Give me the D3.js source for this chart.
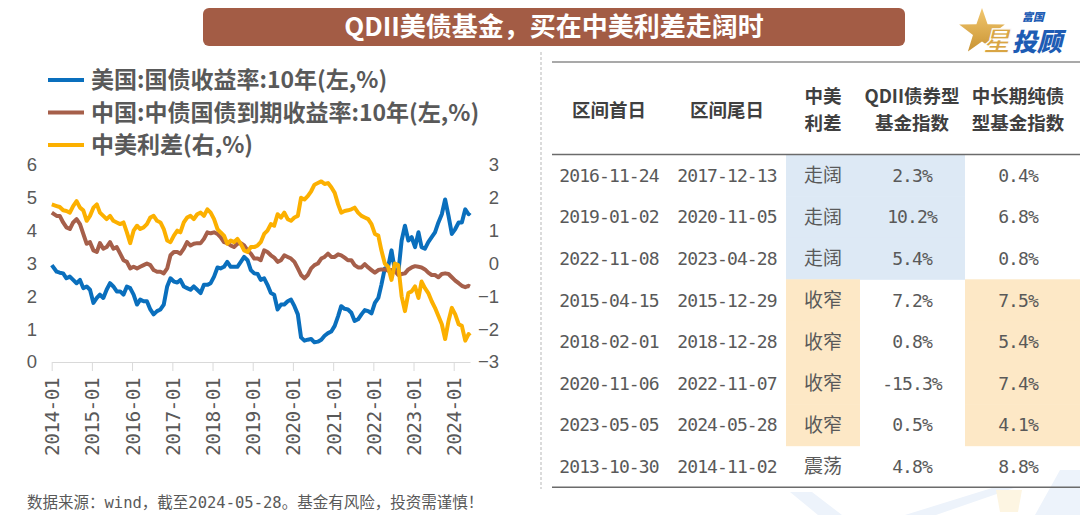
<!DOCTYPE html>
<html lang="zh">
<head>
<meta charset="utf-8">
<title>QDII美债基金，买在中美利差走阔时</title>
<script src="https://cdn.jsdelivr.net/npm/d3@7"></script>
<style>
	body { margin: 0; background: #fff; }
	svg { display: block; }
	.cjk { font-family: "Noto Sans CJK SC", sans-serif; }
	.mono { font-family: "DejaVu Sans Mono", "Noto Sans CJK SC", monospace; }
	.axis text { font-family: "Liberation Sans", Arial, sans-serif; font-size: 18.5px; fill: #595959; }
	.axis text.date { font-family: "DejaVu Sans Mono", monospace; font-size: 19.5px; letter-spacing: -0.6px; }
</style>
</head>
<body>
<script>
// ---- chart data (monthly readings, %), Jan 2014 .. May 2024, last point = 2024-05-28 ----
var usYield = [
	2.95, 2.75, 2.72, 2.70, 2.55, 2.60, 2.50, 2.40, 2.50, 2.25, 2.30, 2.20, // 2014
	1.80, 1.95, 2.05, 1.95, 2.20, 2.40, 2.30, 2.15, 2.15, 2.05, 2.30, 2.25, // 2015
	2.05, 1.75, 1.90, 1.85, 1.85, 1.60, 1.45, 1.55, 1.60, 1.75, 2.30, 2.55, // 2016
	2.45, 2.42, 2.50, 2.30, 2.25, 2.20, 2.30, 2.20, 2.10, 2.35, 2.35, 2.40, // 2017
	2.60, 2.88, 2.85, 2.90, 3.05, 2.90, 2.90, 2.90, 3.05, 3.20, 3.10, 2.80, // 2018
	2.70, 2.68, 2.50, 2.55, 2.35, 2.10, 2.05, 1.60, 1.75, 1.75, 1.85, 1.90, // 2019
	1.70, 1.45, 0.75, 0.65, 0.68, 0.70, 0.60, 0.62, 0.68, 0.80, 0.88, 0.93, // 2020
	1.10, 1.40, 1.70, 1.62, 1.60, 1.50, 1.25, 1.30, 1.45, 1.58, 1.55, 1.48, // 2021
	1.80, 1.95, 2.35, 2.85, 2.90, 3.40, 2.80, 2.70, 3.70, 4.15, 3.70, 3.80, // 2022
	3.50, 3.95, 3.50, 3.45, 3.65, 3.80, 3.95, 4.25, 4.50, 4.95, 4.45, 3.90, // 2023
	4.05, 4.25, 4.25, 4.65, 4.50, 4.55                                      // 2024
];
var cnYield = [
	4.55, 4.45, 4.45, 4.25, 4.10, 4.05, 4.25, 4.35, 4.20, 3.90, 3.60, 3.65,
	3.40, 3.35, 3.62, 3.45, 3.50, 3.65, 3.45, 3.50, 3.30, 3.10, 3.05, 2.85,
	2.90, 2.85, 2.90, 2.95, 3.00, 2.95, 2.80, 2.75, 2.75, 2.70, 2.85, 3.25,
	3.35, 3.35, 3.30, 3.45, 3.65, 3.55, 3.60, 3.62, 3.62, 3.75, 3.95, 3.92,
	3.95, 3.90, 3.80, 3.65, 3.62, 3.55, 3.50, 3.60, 3.62, 3.55, 3.40, 3.30,
	3.15, 3.15, 3.10, 3.40, 3.35, 3.25, 3.18, 3.05, 3.10, 3.25, 3.20, 3.15,
	3.05, 2.85, 2.65, 2.55, 2.65, 2.85, 2.95, 3.00, 3.15, 3.20, 3.30, 3.20,
	3.20, 3.28, 3.25, 3.18, 3.10, 3.10, 2.95, 2.88, 2.88, 2.98, 2.88, 2.80,
	2.72, 2.80, 2.82, 2.82, 2.78, 2.80, 2.78, 2.65, 2.68, 2.70, 2.82, 2.88,
	2.92, 2.90, 2.88, 2.82, 2.72, 2.65, 2.65, 2.58, 2.68, 2.70, 2.68, 2.58,
	2.48, 2.40, 2.32, 2.28, 2.32, 2.30
];
var spread = [
	1.80, 1.75, 1.72, 1.62, 1.60, 1.55, 1.75, 1.90, 1.70, 1.62, 1.30, 1.45,
	1.70, 1.80, 1.55, 1.45, 1.35, 1.45, 1.30, 1.25, 1.20, 1.25, 0.95, 0.62,
	1.00, 1.15, 1.05, 1.10, 1.20, 1.40, 1.45, 1.30, 1.25, 1.05, 0.70, 0.65,
	0.85, 1.00, 0.95, 1.25, 1.40, 1.45, 1.35, 1.50, 1.55, 1.45, 1.65, 1.55,
	1.35, 1.05, 0.95, 0.85, 0.60, 0.70, 0.65, 0.75, 0.60, 0.40, 0.35, 0.50,
	0.50, 0.55, 0.65, 0.90, 1.00, 1.20, 1.15, 1.50, 1.40, 1.55, 1.35, 1.30,
	1.40, 1.45, 2.00, 1.95, 2.05, 2.20, 2.40, 2.45, 2.50, 2.42, 2.45, 2.32,
	2.15, 1.80, 1.55, 1.60, 1.62, 1.65, 1.70, 1.55, 1.45, 1.40, 1.35, 1.20,
	0.90, 0.85, 0.40, 0.00, -0.10, -0.50, 0.00, -0.05, -1.00, -1.45, -0.90, -0.85,
	-0.70, -1.05, -0.55, -0.75, -0.90, -1.15, -1.35, -1.60, -1.85, -2.30, -1.75, -1.35,
	-1.55, -1.85, -1.90, -2.35, -2.15, -2.20
];
var seriesNames = ["美国:国债收益率:10年(左,%)", "中国:中债国债到期收益率:10年(左,%)", "中美利差(右,%)"];
var xTickLabels = ["2014-01", "2015-01", "2016-01", "2017-01", "2018-01", "2019-01",
	"2020-01", "2021-01", "2022-01", "2023-01", "2024-01"];
var leftTicks = [0, 1, 2, 3, 4, 5, 6];
var rightTicks = [-3, -2, -1, 0, 1, 2, 3];

// ---- table data ----
var tableHeaders = [["区间首日"], ["区间尾日"], ["中美", "利差"], ["QDII债券型", "基金指数"], ["中长期纯债", "型基金指数"]];
var startDates = ["2016-11-24", "2019-01-02", "2022-11-08", "2015-04-15", "2018-02-01", "2020-11-06", "2023-05-05", "2013-10-30"];
var endDates   = ["2017-12-13", "2020-11-05", "2023-04-28", "2015-12-29", "2018-12-28", "2022-11-07", "2024-05-28", "2014-11-02"];
var spreadTrend = ["走阔", "走阔", "走阔", "收窄", "收窄", "收窄", "收窄", "震荡"];
var qdiiReturn  = ["2.3%", "10.2%", "5.4%", "7.2%", "0.8%", "-15.3%", "0.5%", "4.8%"];
var pureBondReturn = ["0.4%", "6.8%", "0.8%", "7.5%", "5.4%", "7.4%", "4.1%", "8.8%"];

var colors = ["#0a6fbd", "#a65f4a", "#fcb000"];
var W = 1080, H = 515;

var svg = d3.select("body").append("svg")
	.attr("width", W)
	.attr("height", H);

// faint watermark, bottom right
svg.append("path")
	.attr("d", "M790,492 L812,492 L842,515 L818,515 Z M905,515 L992,488 L1014,488 L936,515 Z M1035,515 L1060,470 L1080,470 L1080,515 Z")
	.attr("fill", "#edf3fb");
svg.append("path")
	.attr("d", "M996,490 L1022,490 L1018,512 L1000,512 Z")
	.attr("fill", "#fdf5e2");

// title bar
svg.append("rect")
	.attr("x", 203).attr("y", 8)
	.attr("width", 702).attr("height", 38)
	.attr("rx", 6)
	.attr("fill", "#a35c45");
svg.append("text")
	.attr("class", "cjk")
	.attr("x", 554).attr("y", 27)
	.attr("dy", "0.36em")
	.attr("text-anchor", "middle")
	.attr("font-size", 26)
	.attr("font-weight", 700)
	.attr("fill", "#fff")
	.text("QDII美债基金，买在中美利差走阔时");

// logo
var logo = svg.append("g");
var star = d3.range(10).map(function(i) {
	var a = -Math.PI / 2 + i * Math.PI / 5, r = i % 2 ? 9.5 : 24;
	return [982 + r * Math.cos(a), 32 + r * Math.sin(a)];
});
var grad = svg.append("defs").append("linearGradient")
	.attr("id", "gold").attr("x1", 0).attr("y1", 0).attr("x2", 0).attr("y2", 1);
grad.append("stop").attr("offset", 0).attr("stop-color", "#f2c76e");
grad.append("stop").attr("offset", 1).attr("stop-color", "#c99434");
logo.append("polygon")
	.attr("points", star.map(function(p) { return p.join(","); }).join(" "))
	.attr("fill", "url(#gold)");
logo.append("text").attr("class", "cjk")
	.attr("x", 983).attr("y", 51)
	.attr("font-size", 27).attr("font-weight", 900).attr("font-style", "italic")
	.attr("fill", "#d9a544").attr("stroke", "#fff").attr("stroke-width", 1.2)
	.text("星");
logo.append("text").attr("class", "cjk")
	.attr("x", 1012).attr("y", 51)
	.attr("font-size", 25).attr("font-weight", 900).attr("font-style", "italic")
	.attr("fill", "#1d5cb4")
	.text("投顾");
logo.append("text").attr("class", "cjk")
	.attr("x", 1022).attr("y", 21)
	.attr("font-size", 11).attr("font-weight", 900).attr("font-style", "italic")
	.attr("fill", "#1d5cb4")
	.text("富国");

// legend
var legend = svg.append("g");
seriesNames.forEach(function(name, i) {
	var y = 80 + i * 32.5;
	legend.append("line")
		.attr("x1", 48).attr("x2", 84)
		.attr("y1", y).attr("y2", y)
		.attr("stroke", colors[i])
		.attr("stroke-width", 4);
	legend.append("text")
		.attr("class", "cjk")
		.attr("x", 91).attr("y", y)
		.attr("dy", "0.36em")
		.attr("font-size", 23)
		.attr("font-weight", 700)
		.attr("fill", "#595959")
		.text(name);
});

// ---- line chart ----
var dates = d3.timeMonth.range(new Date(2014, 0, 1), new Date(2024, 5, 1))
	.map(function(d) { return new Date(d.getFullYear(), d.getMonth(), 15); });
dates[0] = new Date(2014, 0, 2);
dates.push(new Date(2024, 4, 28));

var parseMonth = d3.timeParse("%Y-%m");
var x = d3.scaleTime()
	.domain([new Date(2014, 0, 1), new Date(2024, 4, 28)])
	.range([51.7, 470]);
var yL = d3.scaleLinear().domain([0, 6]).range([362, 165]);
var yR = d3.scaleLinear().domain([-3, 3]).range([362, 165]);

var xAxis = svg.append("g")
	.attr("class", "axis")
	.attr("transform", "translate(0,362)")
	.call(d3.axisBottom(x)
		.tickValues(xTickLabels.map(parseMonth))
		.tickFormat(function(d, i) { return xTickLabels[i]; })
		.tickSize(9)
		.tickSizeOuter(0));
xAxis.select(".domain").attr("stroke", "#d9d9d9");
xAxis.selectAll(".tick line").attr("stroke", "#d9d9d9");
xAxis.selectAll("text")
	.attr("class", "date")
	.attr("transform", "rotate(-90)")
	.attr("text-anchor", "end")
	.attr("x", -16)
	.attr("y", 0)
	.attr("dy", "0.36em");

var leftAxis = svg.append("g")
	.attr("class", "axis")
	.attr("transform", "translate(37,0)")
	.call(d3.axisLeft(yL).tickValues(leftTicks).tickFormat(d3.format("d")).tickSize(0).tickPadding(0));
leftAxis.select(".domain").remove();

var rightAxis = svg.append("g")
	.attr("class", "axis")
	.attr("transform", "translate(499,0)")
	.call(d3.axisRight(yR).tickValues(rightTicks).tickFormat(d3.format("d")).tickSize(0).tickPadding(0));
rightAxis.select(".domain").remove();
rightAxis.selectAll("text").attr("text-anchor", "end");

var lineL = d3.line()
	.x(function(d, i) { return x(dates[i]); })
	.y(function(d) { return yL(d); });
var lineR = d3.line()
	.x(function(d, i) { return x(dates[i]); })
	.y(function(d) { return yR(d); });

[usYield, cnYield].forEach(function(s, i) {
	svg.append("path")
		.datum(s)
		.attr("d", lineL)
		.attr("fill", "none")
		.attr("stroke", colors[i])
		.attr("stroke-width", 4)
		.attr("stroke-linejoin", "round");
});
svg.append("path")
	.datum(spread)
	.attr("d", lineR)
	.attr("fill", "none")
	.attr("stroke", colors[2])
	.attr("stroke-width", 4)
	.attr("stroke-linejoin", "round");

// footer note
svg.append("text")
	.attr("class", "mono")
	.attr("x", 27).attr("y", 503)
	.attr("dy", "0.35em")
	.attr("font-size", 15.5)
	.attr("fill", "#595959")
	.text("数据来源：wind，截至2024-05-28。基金有风险，投资需谨慎！");

// dashed divider
svg.append("line")
	.attr("x1", 541).attr("x2", 541)
	.attr("y1", 52).attr("y2", 489)
	.attr("stroke", "#c4c4c4")
	.attr("stroke-width", 1.2)
	.attr("stroke-dasharray", "3,2");

// ---- table ----
var colEdges = [552, 668, 786, 860, 965, 1080];
var colCenters = [609, 727, 823, 912, 1018];
var headTop = 62, headBottom = 154.5, rowH = 41.6;
var rowY = d3.scaleLinear().domain([0, 1]).range([headBottom, headBottom + rowH]);

var table = svg.append("g");
// highlight cells
startDates.forEach(function(d, r) {
	var cols = spreadTrend[r] === "走阔" ? [2, 3] : spreadTrend[r] === "收窄" ? [2, 4] : [];
	var fill = spreadTrend[r] === "走阔" ? "#dde9f5" : "#fde8c6";
	cols.forEach(function(c) {
		table.append("rect")
			.attr("x", colEdges[c]).attr("y", rowY(r))
			.attr("width", colEdges[c + 1] - colEdges[c])
			.attr("height", rowH + 0.5)
			.attr("fill", fill);
	});
});

table.append("line")
	.attr("x1", 552).attr("x2", 1080).attr("y1", headTop).attr("y2", headTop)
	.attr("stroke", "#8c8c8c").attr("stroke-width", 1.6);
table.append("line")
	.attr("x1", 552).attr("x2", 1080).attr("y1", headBottom).attr("y2", headBottom)
	.attr("stroke", "#6b6b6b").attr("stroke-width", 1.6);
table.append("line")
	.attr("x1", 552).attr("x2", 1080).attr("y1", rowY(startDates.length)).attr("y2", rowY(startDates.length))
	.attr("stroke", "#6b6b6b").attr("stroke-width", 1.6);

// header: two-line headers get lines 27px apart
tableHeaders.forEach(function(lines, c) {
	lines.forEach(function(s, k) {
		table.append("text")
			.attr("class", "cjk")
			.attr("x", colCenters[c])
			.attr("y", lines.length === 1 ? 110 : 96.5 + k * 27)
			.attr("dy", "0.36em")
			.attr("text-anchor", "middle")
			.attr("font-size", 18.5)
			.attr("font-weight", 700)
			.attr("fill", "#404040")
			.text(s);
	});
});

var rows = startDates.map(function(d, i) {
	return [startDates[i], endDates[i], spreadTrend[i], qdiiReturn[i], pureBondReturn[i]];
});
rows.forEach(function(row, r) {
	row.forEach(function(v, c) {
		table.append("text")
			.attr("class", c === 2 ? "cjk" : "mono")
			.attr("x", colCenters[c])
			.attr("y", rowY(r) + rowH / 2)
			.attr("dy", "0.36em")
			.attr("text-anchor", "middle")
			.attr("font-size", c === 2 ? 19 : 18)
			.attr("letter-spacing", c === 2 ? 0 : -0.9)
			.attr("fill", "#595959")
			.text(v);
	});
});
</script>
</body>
</html>
